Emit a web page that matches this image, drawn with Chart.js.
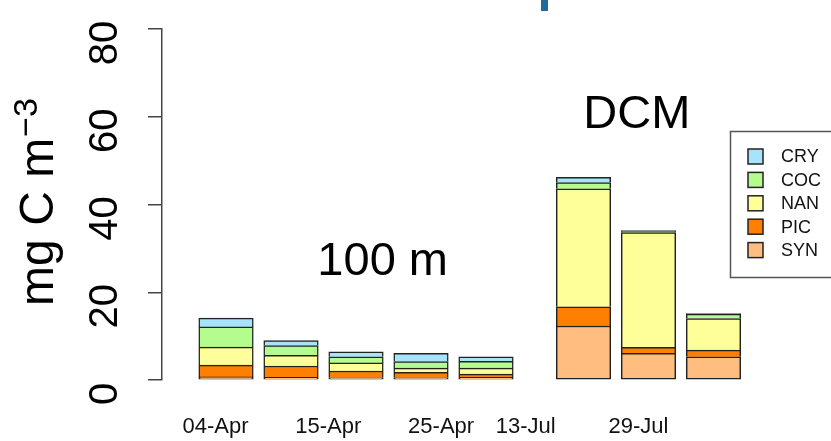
<!DOCTYPE html>
<html>
<head>
<meta charset="utf-8">
<script src="https://cdn.jsdelivr.net/npm/chart.js@4/dist/chart.umd.min.js"></script>
<style>
  html, body { margin: 0; padding: 0; background: #ffffff; }
  #plot { display: block; }
</style>
</head>
<body>
<canvas id="plot" width="831" height="441"></canvas>
<script>
// Sampling dates (blank where the axis shows no label) and sampling depth per bar
const categories = ['04-Apr', '', '15-Apr', '', '25-Apr', '13-Jul', '', '29-Jul'];
const depthGroups = ['100 m', '100 m', '100 m', '100 m', '100 m', 'DCM', 'DCM', 'DCM'];

// Phytoplankton carbon biomass by group (mg C m-3)
const SYN = [0.7, 0.6, 0.5, 0.5, 0.6, 12.3, 6.1, 5.3];
const PIC = [2.7, 2.6, 1.55, 1.25, 0.75, 4.4, 1.35, 1.5];
const NAN = [4.1, 2.4, 1.85, 0.95, 1.35, 26.9, 26.15, 7.2];
const COC = [4.6, 2.25, 1.4, 1.5, 1.55, 1.4, 0.25, 1.0];
const CRY = [2.0, 1.15, 1.1, 1.9, 1.05, 1.2, 0.2, 0.15];

const yTicks = [0, 20, 40, 60, 80];

const FONT = '"Liberation Sans", Arial, Helvetica, sans-serif';
const GROUP_GAP = 0.5;

// bar positions along the x axis: one unit per sample, a gap between depth groups
const xPos = [];
let shift = 0;
categories.forEach((c, i) => {
  if (i > 0 && depthGroups[i] !== depthGroups[i - 1]) shift += GROUP_GAP;
  xPos.push(i + shift);
});
const labelledPos = xPos.filter((p, i) => categories[i] !== '');

const series = [
  { label: 'SYN', values: SYN, color: '#ffbe7f' },
  { label: 'PIC', values: PIC, color: '#ff8000' },
  { label: 'NAN', values: NAN, color: '#ffff99' },
  { label: 'COC', values: COC, color: '#b5fc8f' },
  { label: 'CRY', values: CRY, color: '#a5e4fb' }
];

const datasets = series.map((s, k) => ({
  label: s.label,
  data: s.values.map((v, i) => ({ x: xPos[i], y: v })),
  backgroundColor: s.color,
  borderColor: '#222222',
  borderWidth: { top: 1.5, left: 1.5, right: 1.5, bottom: k === 0 ? 1.5 : 0 },
  borderSkipped: false,
  barThickness: 54.5,
  xAxisID: 'x',
  yAxisID: 'y'
}));

// y axis title with a superscript exponent
const yTitlePlugin = {
  id: 'yTitle',
  afterDraw(chart) {
    const ctx = chart.ctx;
    const area = chart.chartArea;
    const cy = (area.top + area.bottom) / 2 - 2;
    ctx.save();
    ctx.fillStyle = '#000';
    ctx.translate(53, cy);
    ctx.rotate(-Math.PI / 2);
    ctx.textBaseline = 'alphabetic';
    ctx.textAlign = 'left';
    ctx.font = '48px ' + FONT;
    const main = 'mg C m';
    const w1 = ctx.measureText(main).width;
    ctx.font = '34px ' + FONT;
    const sup = '\u22123';
    const w2 = ctx.measureText(sup).width;
    const start = -(w1 + w2) / 2;
    ctx.font = '48px ' + FONT;
    ctx.fillText(main, start, 0);
    ctx.font = '34px ' + FONT;
    ctx.fillText(sup, start + w1 + 1, -16);
    ctx.restore();
  }
};

// depth annotations placed in data coordinates
const groupNotes = [
  { text: '100 m', x: 2.41, y: 26.9 },
  { text: 'DCM', x: 6.32, y: 60.3 }
];
const notesPlugin = {
  id: 'groupNotes',
  afterDatasetsDraw(chart) {
    const ctx = chart.ctx;
    const xs = chart.scales.x, ys = chart.scales.y;
    ctx.save();
    ctx.fillStyle = '#000';
    ctx.font = '47px ' + FONT;
    ctx.textAlign = 'center';
    ctx.textBaseline = 'middle';
    groupNotes.forEach(n => {
      ctx.fillText(n.text, xs.getPixelForValue(n.x), ys.getPixelForValue(n.y));
    });
    ctx.restore();
  }
};

// boxed legend, top group first
const legendPlugin = {
  id: 'boxLegend',
  afterDraw(chart) {
    const ctx = chart.ctx;
    const items = chart.data.datasets.slice().reverse();
    ctx.save();
    ctx.strokeStyle = '#555';
    ctx.lineWidth = 1.5;
    ctx.strokeRect(730.5, 131.5, 200, 146);
    ctx.font = '18px ' + FONT;
    ctx.textBaseline = 'middle';
    ctx.textAlign = 'left';
    items.forEach((d, i) => {
      const cy = 156.5 + i * 23.4;
      ctx.fillStyle = d.backgroundColor;
      ctx.fillRect(748, cy - 7.5, 15, 15);
      ctx.strokeStyle = '#222';
      ctx.lineWidth = 1.5;
      ctx.strokeRect(748, cy - 7.5, 15, 15);
      ctx.fillStyle = '#111';
      ctx.fillText(d.label, 781, cy + 1);
    });
    ctx.restore();
  }
};

// thin blue accent at the top edge
const accentPlugin = {
  id: 'accent',
  afterDraw(chart) {
    const ctx = chart.ctx;
    ctx.save();
    ctx.fillStyle = '#1f6b9e';
    ctx.fillRect(541, 0, 7, 11);
    ctx.restore();
  }
};

const noPadding = (scale) => {
  scale.paddingTop = 0;
  scale.paddingBottom = 0;
  scale.paddingLeft = 0;
  scale.paddingRight = 0;
};

new Chart(document.getElementById('plot'), {
  type: 'bar',
  data: { datasets },
  plugins: [yTitlePlugin, notesPlugin, legendPlugin, accentPlugin],
  options: {
    responsive: false,
    animation: false,
    devicePixelRatio: 1,
    layout: { padding: { top: 29, left: 0, right: 0, bottom: 0 } },
    plugins: { legend: { display: false }, tooltip: { enabled: false } },
    scales: {
      x: {
        type: 'linear',
        stacked: true,
        display: false,
        offset: false,
        grid: { offset: false },
        min: -0.985,
        max: 9.308
      },
      xDates: {
        type: 'linear',
        axis: 'x',
        position: 'bottom',
        offset: false,
        min: -0.949,
        max: 10.913,
        afterBuildTicks(scale) {
          scale.ticks = labelledPos.map(v => ({ value: v }));
        },
        afterFit(scale) { scale.height = 61; noPadding(scale); },
        grid: { display: false, offset: false },
        border: { display: false },
        ticks: {
          autoSkip: false,
          maxRotation: 0,
          minRotation: 0,
          padding: 26,
          color: '#111',
          font: { family: FONT, size: 22 },
          callback(value) {
            const i = xPos.indexOf(value);
            return i >= 0 ? categories[i] : '';
          }
        }
      },
      y: {
        type: 'linear',
        stacked: true,
        position: 'left',
        min: 0,
        max: 80,
        afterBuildTicks(scale) {
          scale.ticks = yTicks.map(v => ({ value: v }));
        },
        afterFit(scale) { scale.width = 162; noPadding(scale); },
        border: { display: true, color: '#444', width: 1.5 },
        grid: {
          display: true,
          drawOnChartArea: false,
          drawTicks: true,
          tickLength: 14,
          color: '#444',
          lineWidth: 1.5
        },
        ticks: {
          minRotation: 90,
          maxRotation: 90,
          crossAlign: 'center',
          labelOffset: 14,
          padding: 20,
          color: '#000',
          font: { family: FONT, size: 40 }
        }
      }
    }
  }
});
</script>
</body>
</html>
